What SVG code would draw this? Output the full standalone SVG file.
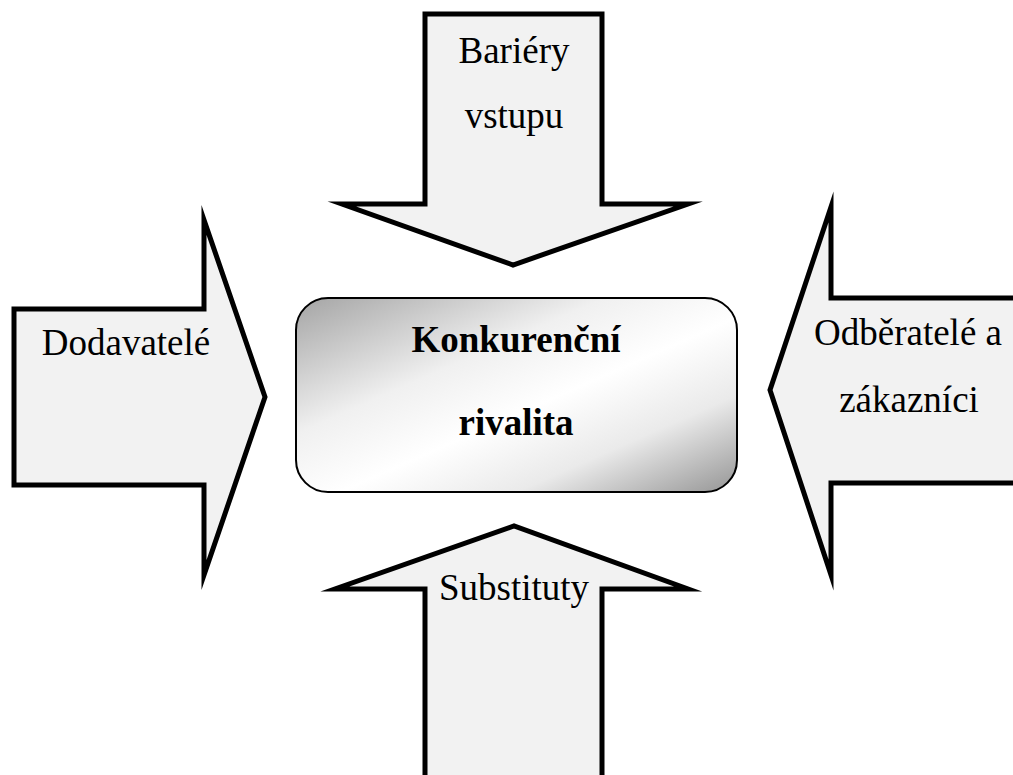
<svg xmlns="http://www.w3.org/2000/svg" width="1013" height="775" viewBox="0 0 1013 775">
  <defs>
    <linearGradient id="boxGrad" x1="0" y1="0" x2="1" y2="1">
      <stop offset="0" stop-color="#a4a4a4"/>
      <stop offset="0.35" stop-color="#f0f0f0"/>
      <stop offset="0.55" stop-color="#ffffff"/>
      <stop offset="0.75" stop-color="#eaeaea"/>
      <stop offset="1" stop-color="#959595"/>
    </linearGradient>
    <style>
      .arrow { fill: #f2f2f2; stroke: #000; stroke-width: 5; stroke-linejoin: miter; stroke-miterlimit: 10; }
      .lbl { font-family: "Liberation Serif", "Times New Roman", serif; font-size: 37px; fill: #000; text-anchor: middle; }
      .bold { font-weight: bold; }
      .box { fill: url(#boxGrad); stroke: #000; stroke-width: 2; }
    </style>
  </defs>
  <rect width="1013" height="775" fill="#ffffff"/>
  <g id="top-arrow">
    <polygon class="arrow" points="425,14 602,14 602,204 688,204 513,265 342,204 425,204"/>
    <text class="lbl" x="514" y="63">Bariéry</text>
    <text class="lbl" x="514" y="128">vstupu</text>
  </g>
  <g id="left-arrow">
    <polygon class="arrow" points="14,309 204,309 204,220 265,397 204,575 204,485 14,485"/>
    <text class="lbl" x="126" y="355">Dodavatelé</text>
  </g>
  <g id="right-arrow">
    <polygon class="arrow" points="1020,298 831,298 831,207 770,390 831,575 831,483 1020,483"/>
    <text class="lbl" x="908" y="345">Odběratelé a</text>
    <text class="lbl" x="909" y="412">zákazníci</text>
  </g>
  <g id="bottom-arrow">
    <polygon class="arrow" points="425,780 425,589 335,589 514,526 688,589 602,589 602,780"/>
    <text class="lbl" x="514" y="600">Substituty</text>
  </g>
  <g id="center-box">
    <rect class="box" x="296" y="298" width="441" height="194" rx="32" ry="32"/>
    <text class="lbl bold" x="516" y="352">Konkurenční</text>
    <text class="lbl bold" x="516" y="435">rivalita</text>
  </g>
  <g id="connectors"></g>
</svg>
